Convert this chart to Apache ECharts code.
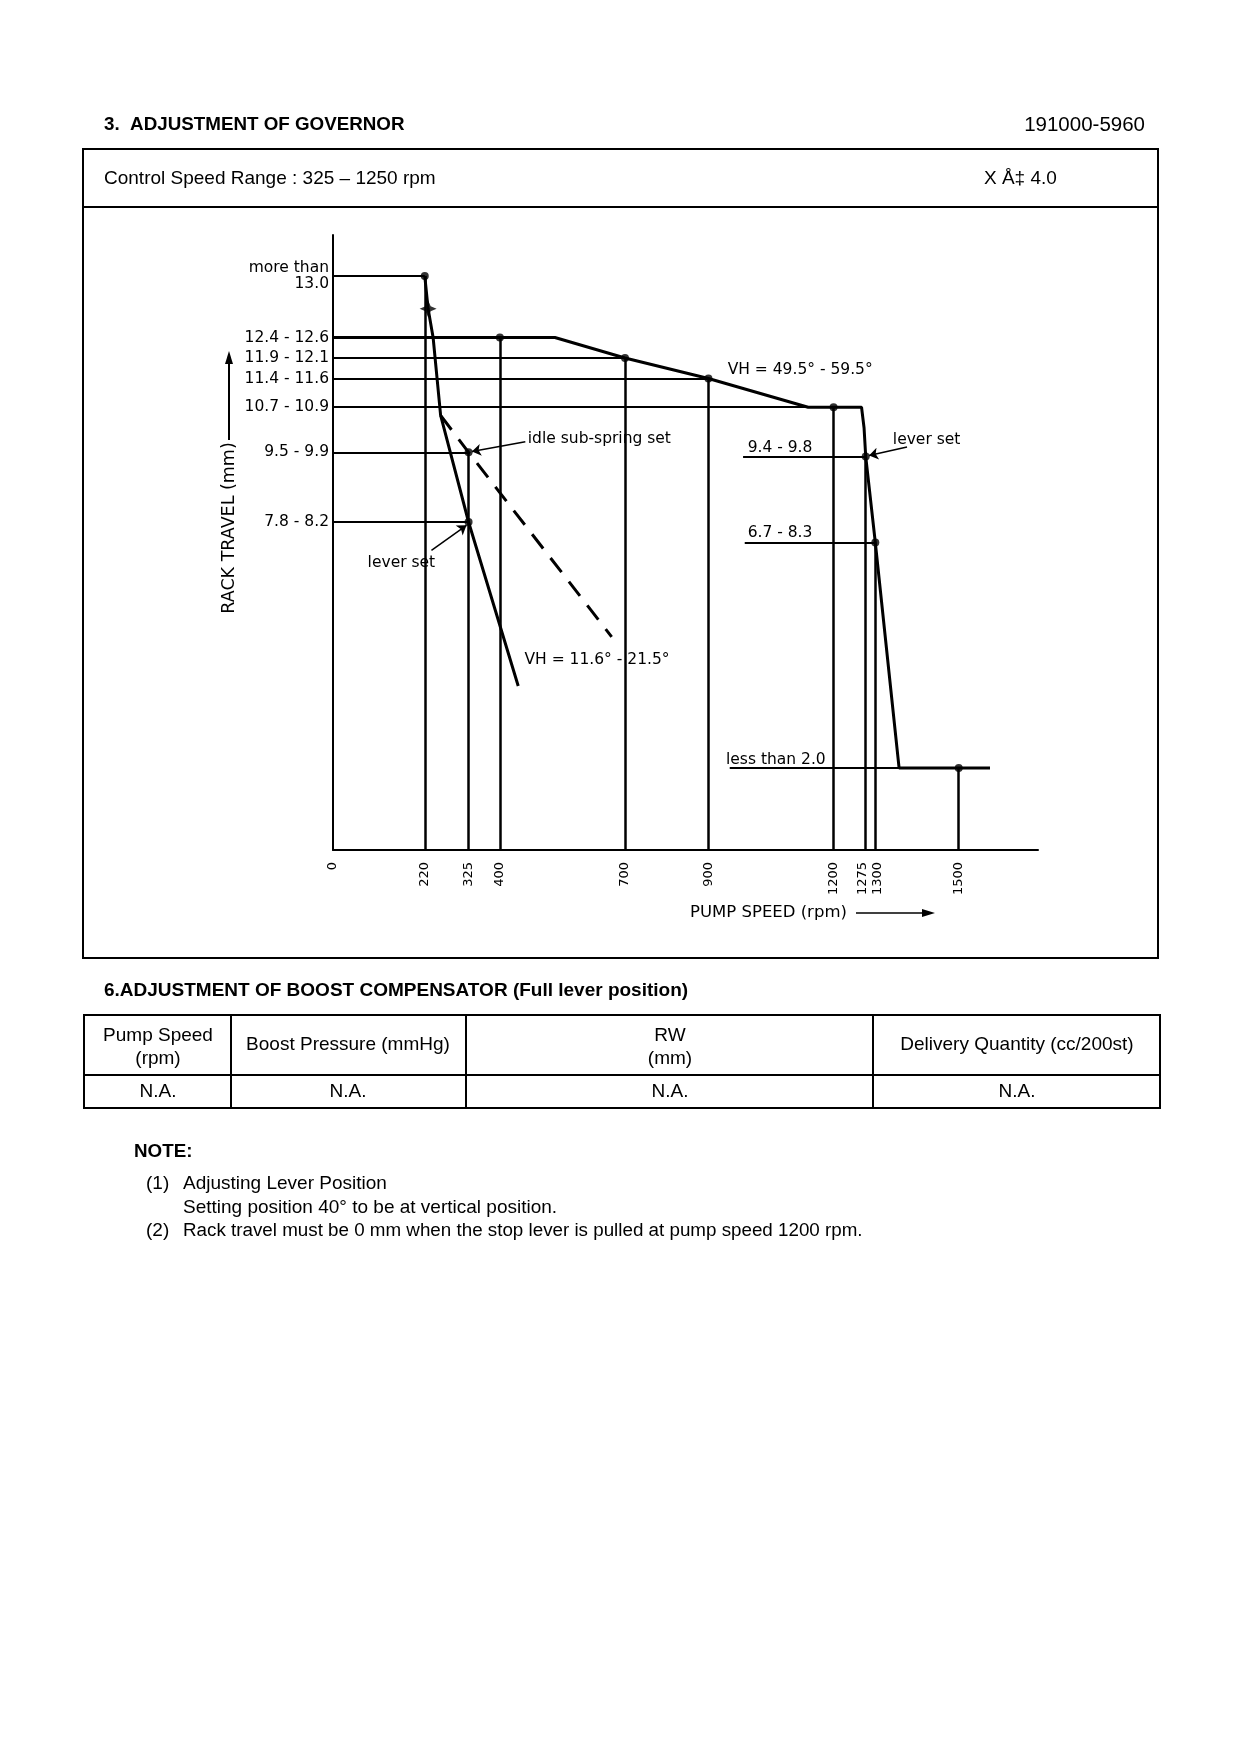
<!DOCTYPE html>
<html>
<head>
<meta charset="utf-8">
<title>Adjustment of governor 191000-5960</title>
<script src="https://cdn.jsdelivr.net/npm/echarts@6/dist/echarts.min.js"></script>
<style>
html,body{margin:0;padding:0;background:#fff;}
#main{width:1240px;height:1754px;}
</style>
</head>
<body>
<div id="main"></div>
<script>
// ---- values ----
var xTicks = [0, 220, 325, 400, 700, 900, 1200, 1275, 1300, 1500];
var yTicks = [14.0, 12.5, 12.0, 11.5, 10.8, 9.7, 8.0];
var yTickLabels = ['more than\n13.0', '12.4 - 12.6', '11.9 - 12.1', '11.4 - 11.6', '10.7 - 10.9', '9.5 - 9.9', '7.8 - 8.2'];

// full load curve (rpm, mm)
var fullLoad = [[240, 12.5], [532, 12.5], [700, 12.0], [900, 11.5], [1139, 10.8], [1267, 10.8], [1273, 10.3], [1277, 9.6], [1300, 7.5], [1357, 2.0], [1575, 2.0]];
// start / idle side, lever set line
var startLine = [[220, 14.0], [228, 13.2], [240, 12.5], [258, 10.6], [325, 8.0], [444, 4.0]];
// idle sub-spring (dashed)
var idleDash = [[258, 10.6], [325, 9.7], [668, 5.2]];

// vertical setting lines: speed and the rack travel they reach
var vSpeeds = [220, 325, 400, 700, 900, 1200, 1275, 1300, 1500];
var vTops = [14.0, 9.7, 12.5, 12.0, 11.5, 10.8, 9.6, 7.5, 2.0];

// horizontal setting lines: level, from speed, to speed
var hLevels = [14.0, 12.5, 12.0, 11.5, 10.8, 9.7, 8.0, 9.6, 7.5, 2.0];
var hFrom = [0, 0, 0, 0, 0, 0, 0, 983, 987, 951];
var hTo = [220, 240, 700, 900, 1139, 325, 325, 1277, 1300, 1357];

// measuring points (dots)
var setPoints = [[220, 14.0], [400, 12.5], [700, 12.0], [900, 11.5], [1200, 10.8], [325, 9.7], [325, 8.0], [1277, 9.6], [1300, 7.5], [1500, 2.0]];
var starPoint = [[228, 13.2]];

// leader arrows (from text to point)
var arrowFrom = [[461, 9.96], [236, 7.31], [1376, 9.83]];
var arrowTo = [[333, 9.72], [320, 7.92], [1285, 9.62]];

// texts inside the diagram
var noteText = ['idle sub-spring set', 'lever set', 'VH = 11.6° - 21.5°', 'VH = 49.5° - 59.5°', '9.4 - 9.8', '6.7 - 8.3', 'lever set', 'less than 2.0'];
var notePos = [[467, 10.02], [83, 7.0], [459, 4.63], [946, 11.7], [994, 9.8], [994, 7.73], [1342, 10.0], [942, 2.19]];

var pageFont = '"Liberation Sans", Arial, sans-serif';
var plotFont = '"DejaVu Sans", sans-serif';

var chart = echarts.init(document.getElementById('main'));

var hData = hLevels.map(function (y, i) {
	return {
		coords: [[hFrom[i], y], [hTo[i], y]],
		lineStyle: { width: y == 12.5 ? 3 : 2 }
	};
});
var vData = vSpeeds.map(function (x, i) {
	return { coords: [[x, 0], [x, vTops[i]]] };
});
var arrowData = arrowFrom.map(function (p, i) {
	return { coords: [p, arrowTo[i]] };
});

var option = {
	backgroundColor: '#fff',
	animation: false,
	grid: { left: 333, top: 235, width: 705, height: 615, containLabel: false },
	xAxis: {
		type: 'value',
		min: 0,
		max: 1690,
		splitLine: { show: false },
		axisTick: { show: false },
		axisLine: { lineStyle: { color: '#000', width: 2 } },
		axisLabel: {
			customValues: xTicks,
			rotate: 90,
			margin: 12,
			color: '#000',
			fontFamily: plotFont,
			fontSize: 13,
			// 1275 and 1300 sit close, push them apart a little
			formatter: function (v) {
				if (v == 1275) return '{l|1275}';
				if (v == 1300) return '{r|1300}';
				return String(v);
			},
			rich: {
				l: { fontFamily: plotFont, fontSize: 13, padding: [0, 0, 5, 0] },
				r: { fontFamily: plotFont, fontSize: 13, padding: [5, 0, 0, 0] }
			}
		}
	},
	yAxis: {
		type: 'value',
		min: 0,
		max: 15,
		splitLine: { show: false },
		axisTick: { show: false },
		axisLine: { show: true, lineStyle: { color: '#000', width: 2 } },
		axisLabel: {
			customValues: yTicks,
			margin: 4,
			color: '#000',
			fontFamily: plotFont,
			fontSize: 15.5,
			lineHeight: 16,
			formatter: function (v) {
				for (var i = 0; i < yTicks.length; i++) {
					if (Math.abs(yTicks[i] - v) < 1e-6) return yTickLabels[i];
				}
				return '';
			}
		}
	},
	series: [{
		type: 'lines',
		coordinateSystem: 'cartesian2d',
		silent: true,
		lineStyle: { color: '#000', width: 2, opacity: 1 },
		data: hData
	}, {
		type: 'lines',
		coordinateSystem: 'cartesian2d',
		silent: true,
		lineStyle: { color: '#000', width: 2.5, opacity: 1 },
		data: vData
	}, {
		type: 'line',
		data: fullLoad,
		symbol: 'none',
		lineStyle: { color: '#000', width: 3 }
	}, {
		type: 'line',
		data: startLine,
		symbol: 'none',
		lineStyle: { color: '#000', width: 3 }
	}, {
		type: 'line',
		data: idleDash,
		symbol: 'none',
		lineStyle: { color: '#000', width: 3, type: [18, 12] }
	}, {
		type: 'lines',
		coordinateSystem: 'cartesian2d',
		silent: true,
		symbol: ['none', 'arrow'],
		symbolSize: 9,
		lineStyle: { color: '#000', width: 1.5, opacity: 1 },
		data: arrowData
	}, {
		type: 'scatter',
		data: setPoints,
		symbol: 'circle',
		symbolSize: 8,
		itemStyle: { color: '#000' }
	}, {
		type: 'scatter',
		data: starPoint,
		symbol: 'path://M5,0 L6.5,3.5 L10,5 L6.5,6.5 L5,10 L3.5,6.5 L0,5 L3.5,3.5 Z',
		symbolSize: 17,
		itemStyle: { color: '#000' }
	}]
};
chart.setOption(option);

//文字元素
function txt(x, y, s, font, align) {
	return {
		type: 'text',
		x: x,
		y: y,
		silent: true,
		style: { text: s, font: font, fill: '#000', textAlign: align || 'left', textVerticalAlign: 'middle' }
	};
}
function line(x1, y1, x2, y2, w) {
	return {
		type: 'line',
		silent: true,
		shape: { x1: x1, y1: y1, x2: x2, y2: y2 },
		style: { stroke: '#000', lineWidth: w || 2 }
	};
}

var normal = '19px ' + pageFont;
var bold = 'bold 18.8px ' + pageFont;
var g = [];
// heading and frame
g.push(txt(104, 125, '3.  ADJUSTMENT OF GOVERNOR', bold));
g.push(txt(1145, 125, '191000-5960', '20.5px ' + pageFont, 'right'));
g.push({ type: 'rect', silent: true, shape: { x: 83, y: 149, width: 1075, height: 809 }, style: { fill: 'none', stroke: '#000', lineWidth: 2 } });
g.push(line(83, 207, 1158, 207));
g.push(txt(104, 179, 'Control Speed Range : 325 – 1250 rpm', normal));
g.push(txt(984, 179, 'X Å‡ 4.0', normal));

// axis titles with arrows
g.push({
	type: 'text',
	x: 229,
	y: 528,
	rotation: Math.PI / 2,
	silent: true,
	style: { text: 'RACK TRAVEL (mm)', font: '17.5px ' + plotFont, fill: '#000', textAlign: 'center', textVerticalAlign: 'middle' }
});
g.push(line(229, 440, 229, 362, 2));
g.push({ type: 'polygon', silent: true, shape: { points: [[229, 351], [225, 364], [233, 364]] }, style: { fill: '#000' } });
g.push(txt(690, 913, 'PUMP SPEED (rpm)', '16.5px ' + plotFont));
g.push(line(856, 913, 924, 913, 1.5));
g.push({ type: 'polygon', silent: true, shape: { points: [[935, 913], [922, 909], [922, 917]] }, style: { fill: '#000' } });

// texts in the diagram, placed from data coordinates
noteText.forEach(function (s, i) {
	var p = chart.convertToPixel({ gridIndex: 0 }, notePos[i]);
	g.push(txt(p[0], p[1], s, '15.5px ' + plotFont));
});

// boost compensator table
g.push(txt(104, 991, '6.ADJUSTMENT OF BOOST COMPENSATOR (Full lever position)', 'bold 19px ' + pageFont));
g.push({ type: 'rect', silent: true, shape: { x: 84, y: 1015, width: 1076, height: 93 }, style: { fill: 'none', stroke: '#000', lineWidth: 2 } });
g.push(line(84, 1075, 1160, 1075));
[231, 466, 873].forEach(function (x) { g.push(line(x, 1015, x, 1108)); });
g.push(txt(158, 1036, 'Pump Speed', normal, 'center'));
g.push(txt(158, 1059, '(rpm)', normal, 'center'));
g.push(txt(348, 1045, 'Boost Pressure (mmHg)', normal, 'center'));
g.push(txt(670, 1036, 'RW', normal, 'center'));
g.push(txt(670, 1059, '(mm)', normal, 'center'));
g.push(txt(1017, 1045, 'Delivery Quantity (cc/200st)', normal, 'center'));
[158, 348, 670, 1017].forEach(function (x) { g.push(txt(x, 1092, 'N.A.', normal, 'center')); });

// notes
g.push(txt(134, 1152, 'NOTE:', bold));
g.push(txt(146, 1184, '(1)', normal));
g.push(txt(183, 1184, 'Adjusting Lever Position', normal));
g.push(txt(183, 1208, 'Setting position 40° to be at vertical position.', normal));
g.push(txt(146, 1231, '(2)', normal));
g.push(txt(183, 1231, 'Rack travel must be 0 mm when the stop lever is pulled at pump speed 1200 rpm.', '18.8px ' + pageFont));

chart.setOption({ graphic: g });
</script>
</body>
</html>
